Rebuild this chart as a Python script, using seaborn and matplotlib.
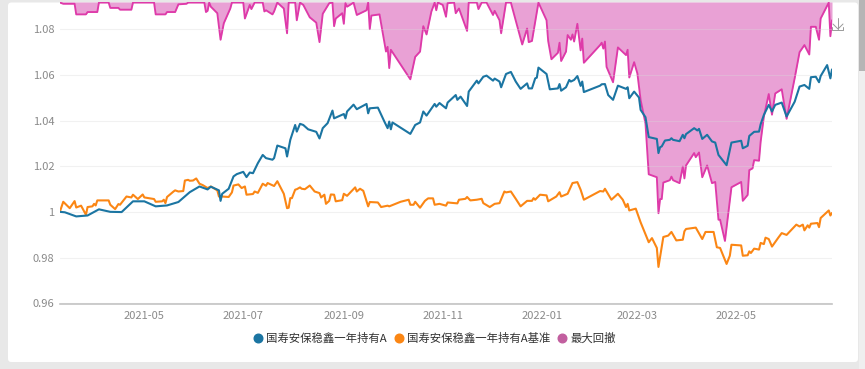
import matplotlib
matplotlib.use("Agg")
import matplotlib.pyplot as plt
import matplotlib.dates as mdates
from matplotlib.lines import Line2D
from matplotlib.patches import FancyBboxPatch, Rectangle
import numpy as np
import pandas as pd
import seaborn as sns

START = "2021-03-10"
END_DAY = 476

FUND_NAME = "国寿安保稳鑫一年持有A"
BENCH_NAME = "国寿安保稳鑫一年持有A基准"
DD_NAME = "最大回撤"

fund_days = [0,3,10,17,24,31,38,45,52,59,66,73,80,86,91,93,98,99,100,104,107,109,113,115,117,119,122,125,127,131,132,134,139,140,142,145,146,148,
150,153,158,160,162,165,168,169,175,176,177,181,183,189,190,191,196,200,202,203,204,205,216,219,222,224,226,231,232,234,238,239,244,245,247,251,252,257,258,261,263,267,268,271,272,275,278,281,284,288,289,291,293,294,295,300,302,307,308,309,312,314,315,317,319,321,322,323,333,
334,336,338,341,344,349,350,351,354,357,358,361,363,368,369,370,371,373,376,377,378,382,384,385,386,391,393,394,396,399,402,404,406,411,414,420,421,424,425,428,431,432,434,437,439,441,445,448,453,456,459,462,463,466,468,469,473,475,476]
fund_nav = [1.0001,0.9999,0.9981,0.9985,1.0012,1.0001,1.0000,1.0047,1.0047,1.0025,1.0029,1.0044,1.0087,1.0112,1.0099,1.0111,1.0095,1.0049,1.0080,1.0102,1.0156,1.0166,1.0176,1.0153,1.0173,1.0170,1.0214,1.0250,1.0236,1.0229,1.0236,1.0291,1.0279,1.0243,1.0316,1.0381,1.0352,1.0386,
1.0381,1.0362,1.0351,1.0322,1.0367,1.0389,1.0444,1.0410,1.0429,1.0410,1.0440,1.0470,1.0450,1.0473,1.0432,1.0454,1.0457,1.0396,1.0367,1.0396,1.0362,1.0392,1.0342,1.0381,1.0392,1.0440,1.0422,1.0473,1.0461,1.0477,1.0454,1.0479,1.0512,1.0491,1.0505,1.0464,1.0527,1.0575,1.0563,1.0592,1.0597,1.0575,1.0584,1.0571,1.0546,1.0604,1.0613,1.0571,1.0539,1.0563,1.0541,1.0541,1.0585,1.0588,1.0632,1.0604,1.0537,1.0541,1.0560,1.0531,1.0546,1.0578,1.0571,1.0578,1.0595,1.0552,1.0571,1.0525,1.0553,
1.0559,1.0560,1.0512,1.0491,1.0553,1.0539,1.0546,1.0498,1.0527,1.0501,1.0447,1.0415,1.0328,1.0320,1.0258,1.0284,1.0287,1.0313,1.0316,1.0323,1.0316,1.0310,1.0338,1.0323,1.0341,1.0367,1.0357,1.0364,1.0320,1.0338,1.0309,1.0304,1.0250,1.0205,1.0304,1.0312,1.0279,1.0290,1.0333,1.0351,1.0352,1.0384,1.0425,1.0469,1.0440,1.0469,1.0479,1.0418,1.0483,1.0549,1.0556,1.0539,1.0590,1.0592,1.0568,1.0595,1.0643,1.0585,1.0624]

bench_days = [0,2,6,9,10,13,16,17,20,21,22,23,30,31,34,36,37,41,44,45,48,51,52,58,59,63,64,65,66,70,71,73,76,77,79,80,82,84,86,88,91,93,97,98,100,104,106,107,110,112,114,115,119,120,122,125,127,128,132,134,138,140,141,142,143,145,146,148,
149,151,154,157,160,161,163,164,166,167,169,170,174,175,177,182,183,185,187,190,191,196,198,202,203,210,215,216,218,219,222,225,227,230,231,234,238,239,245,246,250,251,253,257,260,261,265,268,271,274,275,278,281,284,288,291,292,293,296,300,301,306,308,309,313,316,319,321,323,333,
335,336,340,344,347,349,350,351,355,358,363,365,368,369,372,375,377,380,384,385,386,392,396,398,403,405,407,411,413,414,420,421,424,425,426,428,431,432,434,435,437,439,443,445,448,454,456,458,459,461,462,463,467,468,469,474,475,476]
bench_nav = [1.0003,1.0045,1.0017,1.0048,1.0020,1.0028,0.9988,1.0022,1.0025,1.0036,1.0029,1.0051,1.0051,1.0032,1.0013,1.0035,1.0032,1.0068,1.0064,1.0076,1.0057,1.0077,1.0064,1.0057,1.0045,1.0047,1.0054,1.0039,1.0066,1.0090,1.0095,1.0090,1.0092,1.0138,1.0141,1.0137,1.0138,1.0147,1.0124,1.0118,1.0105,1.0112,1.0095,1.0068,1.0068,1.0066,1.0086,1.0116,1.0121,1.0105,1.0112,1.0076,1.0079,1.0090,1.0084,1.0124,1.0115,1.0127,1.0114,1.0135,1.0080,1.0017,1.0019,1.0061,1.0061,1.0098,1.0100,1.0108,
1.0102,1.0100,1.0116,1.0090,1.0083,1.0064,1.0076,1.0036,1.0049,1.0077,1.0076,1.0047,1.0052,1.0080,1.0071,1.0108,1.0090,1.0102,1.0093,1.0025,1.0044,1.0042,1.0022,1.0028,1.0025,1.0045,1.0054,1.0032,1.0032,1.0045,1.0019,1.0049,1.0060,1.0060,1.0032,1.0036,1.0028,1.0042,1.0038,1.0054,1.0058,1.0066,1.0051,1.0054,1.0058,1.0039,1.0022,1.0036,1.0039,1.0090,1.0086,1.0090,1.0058,1.0025,1.0049,1.0049,1.0061,1.0054,1.0076,1.0073,1.0047,1.0068,1.0087,1.0068,1.0080,1.0127,1.0131,1.0098,1.0054,1.0092,
1.0090,1.0102,1.0054,1.0080,1.0054,1.0022,1.0036,1.0007,1.0015,0.9955,0.9868,0.9886,0.9843,0.9760,0.9891,0.9897,0.9913,0.9876,0.9879,0.9916,0.9926,0.9932,0.9882,0.9913,0.9913,0.9846,0.9843,0.9773,0.9809,0.9857,0.9854,0.9809,0.9811,0.9828,0.9821,0.9840,0.9836,0.9865,0.9860,0.9888,0.9882,0.9849,0.9889,0.9908,0.9900,0.9945,0.9937,0.9945,0.9920,0.9942,0.9932,0.9949,0.9952,0.9934,0.9974,1.0007,0.9985,0.9996]

dd_days = [0,2,9,10,16,17,23,24,30,31,36,37,44,45,58,59,65,66,71,73,78,79,89,90,91,92,93,97,99,101,105,106,113,114,117,118,120,125,126,127,131,132,134,138,140,141,145,146,148,
150,154,158,160,162,166,168,169,170,174,175,176,177,181,183,189,190,191,192,197,201,202,203,204,216,219,222,224,226,229,231,232,233,236,238,239,243,244,246,251,252,257,258,260,263,267,268,271,272,275,278,285,288,289,291,295,300,301,303,307,308,309,312,313,315,316,317,319,321,322,323,333,
334,335,336,337,341,344,349,350,351,354,356,358,361,363,368,369,370,371,372,376,377,378,382,384,385,386,391,392,394,396,399,402,404,406,407,410,414,420,421,424,425,427,428,431,432,434,437,439,441,445,448,453,456,459,462,463,466,468,469,474,475,476]
dd_pct = [-0.01,-0.03,-0.03,-0.21,-0.21,-0.17,-0.17,-0.01,-0.01,-0.10,-0.10,-0.13,-0.13,-0.01,-0.01,-0.21,-0.21,-0.17,-0.17,-0.04,-0.03,-0.01,-0.01,-0.17,-0.15,-0.01,-0.08,-0.19,-0.64,-0.36,-0.11,-0.01,-0.01,-0.28,-0.05,-0.12,-0.01,-0.01,-0.16,-0.14,-0.21,-0.16,-0.01,-0.11,-0.53,-0.01,-0.01,-0.31,-0.01,
-0.05,-0.26,-0.35,-0.68,-0.20,-0.02,-0.01,-0.41,-0.28,-0.19,-0.37,-0.02,-0.08,-0.01,-0.22,-0.14,-0.01,-0.46,-0.23,-0.21,-0.84,-0.76,-1.12,-0.81,-1.31,-0.93,-0.84,-0.41,-0.55,-0.16,-0.01,-0.14,-0.01,-0.05,-0.25,-0.02,-0.01,-0.19,-0.11,-0.49,-0.01,-0.01,-0.12,-0.01,-0.01,-0.22,-0.15,-0.31,-0.53,-0.01,-0.01,-0.72,-0.45,-0.68,-0.66,-0.01,-0.31,-0.66,-0.97,-0.86,-0.69,-1.00,-0.84,-0.56,-0.64,-0.55,-0.67,-0.37,-0.82,-0.62,-1.03,-0.73,
-0.69,-0.79,-0.67,-1.10,-1.36,-0.77,-0.90,-0.81,-1.28,-1.02,-1.21,-1.66,-2.06,-2.92,-2.97,-3.58,-3.34,-3.34,-3.06,-3.02,-2.96,-3.02,-3.07,-2.79,-2.99,-2.77,-2.56,-2.63,-2.55,-2.97,-2.77,-3.07,-3.05,-3.69,-3.69,-4.05,-3.14,-3.05,-3.37,-3.27,-2.85,-2.82,-2.68,-2.69,-2.37,-1.94,-1.56,-1.91,-1.55,-1.48,-1.98,-1.29,-0.85,-0.73,-0.89,-0.42,-0.42,-0.64,-0.28,-0.01,-0.58,-0.31]

y_ticks = [0.96, 0.98, 1.00, 1.02, 1.04, 1.06, 1.08]
y_labels = ["0.96", "0.98", "1", "1.02", "1.04", "1.06", "1.08"]
x_ticks = ["2021-05-01", "2021-07-01", "2021-09-01", "2021-11-01", "2022-01-01", "2022-03-01", "2022-05-01"]

BLUE = "#1b75a2"
ORANGE = "#fb8614"
PINK = "#de3aa9"
PINK_FILL = "#e9a1d5"
PINK_KEY = "#c25f9f"
GREY = "#8a8a8a"

sns.set_theme(style="white")
plt.rcParams["font.family"] = ["Noto Sans CJK SC", "DejaVu Sans"]

W, H = 865, 369
fig = plt.figure(figsize=(W / 100, H / 100), dpi=100, facecolor="#e8e8e8")


def fx(p):
    return p / W


def fy(p):
    return 1 - p / H


# page furniture
fig.add_artist(Rectangle((fx(859), 0), fx(6), 1, transform=fig.transFigure, fc="#efefef", ec="none"))
fig.add_artist(Rectangle((fx(859), fy(71)), fx(6), fy(0) - fy(71), transform=fig.transFigure, fc="#b5b5b5", ec="none"))
fig.add_artist(FancyBboxPatch((fx(8), fy(362)), fx(850), fy(2.5) - fy(362),
                              boxstyle="round,pad=0,rounding_size=0.004", transform=fig.transFigure,
                              fc="white", ec="none", mutation_aspect=2.3))

ax = fig.add_axes([fx(60), fy(303.5), fx(772), fy(2) - fy(303.5)])
dd_ax = ax.twinx()
ax.set_zorder(2)
dd_ax.set_zorder(1)
ax.patch.set_visible(False)
dd_ax.patch.set_visible(False)


def to_dates(days):
    return pd.Timestamp(START) + pd.to_timedelta(np.array(days), unit="D")


dd_frame = pd.DataFrame({"date": to_dates(dd_days), "dd": dd_pct})
fund_frame = pd.DataFrame({"date": to_dates(fund_days), "nav": fund_nav})
bench_frame = pd.DataFrame({"date": to_dates(bench_days), "nav": bench_nav})

dd_ax.fill_between(dd_frame["date"], dd_frame["dd"], 0, color=PINK_FILL, lw=0)
sns.lineplot(data=dd_frame, x="date", y="dd", ax=dd_ax, color=PINK, lw=1.35,
             estimator=None, sort=False, legend=False)
sns.lineplot(data=bench_frame, x="date", y="nav", ax=ax, color=ORANGE, lw=1.5,
             estimator=None, sort=False, legend=False)
sns.lineplot(data=fund_frame, x="date", y="nav", ax=ax, color=BLUE, lw=1.5,
             estimator=None, sort=False, legend=False)

ax.set_xlim(pd.Timestamp(START), pd.Timestamp(START) + pd.Timedelta(days=END_DAY))
ax.set_ylim(0.96, 1.0919)
dd_ax.set_ylim(-5.11, 0)
dd_ax.set_axis_off()

ax.set_xlabel("")
ax.set_ylabel("")
ax.set_yticks(y_ticks, y_labels)
ax.set_xticks(pd.to_datetime(x_ticks))
ax.xaxis.set_major_formatter(mdates.DateFormatter("%Y-%m"))
ax.tick_params(axis="y", length=0, pad=4, labelsize=8, labelcolor=GREY)
ax.tick_params(axis="x", length=3, width=0.8, color="#c4c4c4", pad=2.5, labelsize=8, labelcolor=GREY)
ax.grid(axis="y", color="#d8d8d8", alpha=0.35, lw=0.8)
ax.grid(axis="x", visible=False)
ax.set_axisbelow(True)
for side in ("top", "left", "right"):
    ax.spines[side].set_visible(False)
ax.spines["bottom"].set_color("#c4c4c4")
ax.spines["bottom"].set_linewidth(1.2)

handles = [Line2D([], [], ls="", marker="o", ms=6.2, color=c) for c in (BLUE, ORANGE, PINK_KEY)]
fig.legend(handles, [FUND_NAME, BENCH_NAME, DD_NAME], ncols=3, loc="center",
           bbox_to_anchor=(fx(433.5), fy(338)), frameon=False, fontsize=8.2,
           labelcolor="#333333", handletextpad=0.1, columnspacing=0.45, handlelength=1.2,
           borderpad=0, borderaxespad=0)

# download icon
icon = [([838, 838], [18, 29]), ([833, 838, 843], [24, 29, 24]), ([832, 832, 843, 843], [27, 30, 30, 27])]
for xs, ys in icon:
    fig.add_artist(Line2D([fx(v) for v in xs], [fy(v) for v in ys], transform=fig.transFigure,
                          color="#9a9a9a", lw=0.7))

fig.savefig("out.png", dpi=100, facecolor=fig.get_facecolor())
